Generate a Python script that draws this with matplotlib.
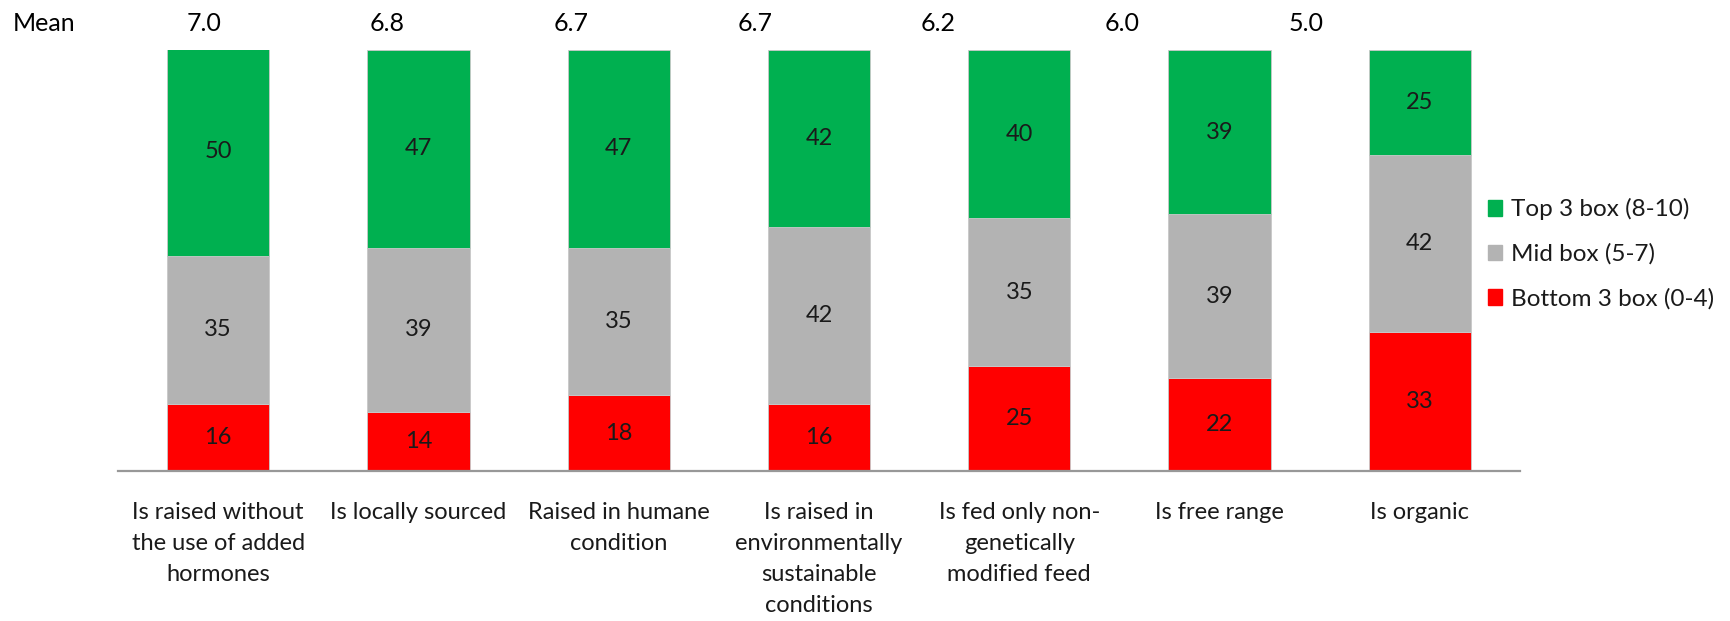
import matplotlib
matplotlib.use("Agg")
import matplotlib.pyplot as plt
from matplotlib.patches import Patch

plt.rcParams["font.family"] = ["Lato", "DejaVu Sans"]

categories = [
    "Is raised without\nthe use of added\nhormones",
    "Is locally sourced",
    "Raised in humane\ncondition",
    "Is raised in\nenvironmentally\nsustainable\nconditions",
    "Is fed only non-\ngenetically\nmodified feed",
    "Is free range",
    "Is organic",
]
bottom3 = [16, 14, 18, 16, 25, 22, 33]
mid = [35, 39, 35, 42, 35, 39, 42]
top3 = [50, 47, 47, 42, 40, 39, 25]
means = ["7.0", "6.8", "6.7", "6.7", "6.2", "6.0", "5.0"]
legend_labels = ["Top 3 box (8-10)", "Mid box (5-7)", "Bottom 3 box (0-4)"]

GREEN = "#00B050"
GREY = "#B3B3B3"
RED = "#FF0000"
EDGE = "#C8C8C8"
TXT = "#1a1a1a"

W, H = 1730, 621
fig = plt.figure(figsize=(W / 100, H / 100), dpi=100)
# axes placed in pixel units of the reference
ax = fig.add_axes([118 / W, (H - 471) / H, 1402 / W, 421 / H])

x = list(range(len(categories)))
w = 0.51
base2 = bottom3
base3 = [a + b for a, b in zip(bottom3, mid)]
ax.bar(x, bottom3, w, color=RED, edgecolor=EDGE, linewidth=0.6)
ax.bar(x, mid, w, bottom=base2, color=GREY, edgecolor=EDGE, linewidth=0.6)
ax.bar(x, top3, w, bottom=base3, color=GREEN, edgecolor=EDGE, linewidth=0.6)

# segment value labels
for i in x:
    ax.text(i, bottom3[i] / 2, str(bottom3[i]), ha="center", va="center", fontsize=17, color=TXT)
    ax.text(i, base2[i] + mid[i] / 2, str(mid[i]), ha="center", va="center", fontsize=17, color=TXT)
    ax.text(i, base3[i] + top3[i] / 2, str(top3[i]), ha="center", va="center", fontsize=17, color=TXT)

# mean row: its own evenly spaced row, a bit tighter than the bars,
# baseline 31 px from the top of the figure
tr = ax.get_xaxis_transform()
mean_y = (471 - 31) / 421
for i, m in enumerate(means):
    ax.text(-0.072 + 0.917 * i, mean_y, m, transform=tr, ha="center", va="baseline",
            fontsize=18, color="black")
fig.text(13 / W, 1 - 31 / H, "Mean", ha="left", va="baseline", fontsize=18, color="black")

ax.set_xlim(-0.5, 6.5)
ax.set_ylim(0, 100)
ax.set_xticks(x)
ax.set_xticklabels(categories, fontsize=17, color=TXT, linespacing=1.6, va="top")
ax.tick_params(axis="x", length=0, pad=22)
ax.set_yticks([])
for s in ["top", "left", "right"]:
    ax.spines[s].set_visible(False)
ax.spines["bottom"].set_color("#989898")
ax.spines["bottom"].set_linewidth(1.6)

handles = [Patch(color=GREEN), Patch(color=GREY), Patch(color=RED)]
fig.legend(handles, legend_labels, loc="center left", bbox_to_anchor=(1466 / W, 1 - 254 / H),
           frameon=False, fontsize=17.5, handlelength=0.6, handleheight=0.6,
           handletextpad=0.35, labelspacing=0.95, labelcolor=TXT)

fig.savefig("out.png", dpi=100)
